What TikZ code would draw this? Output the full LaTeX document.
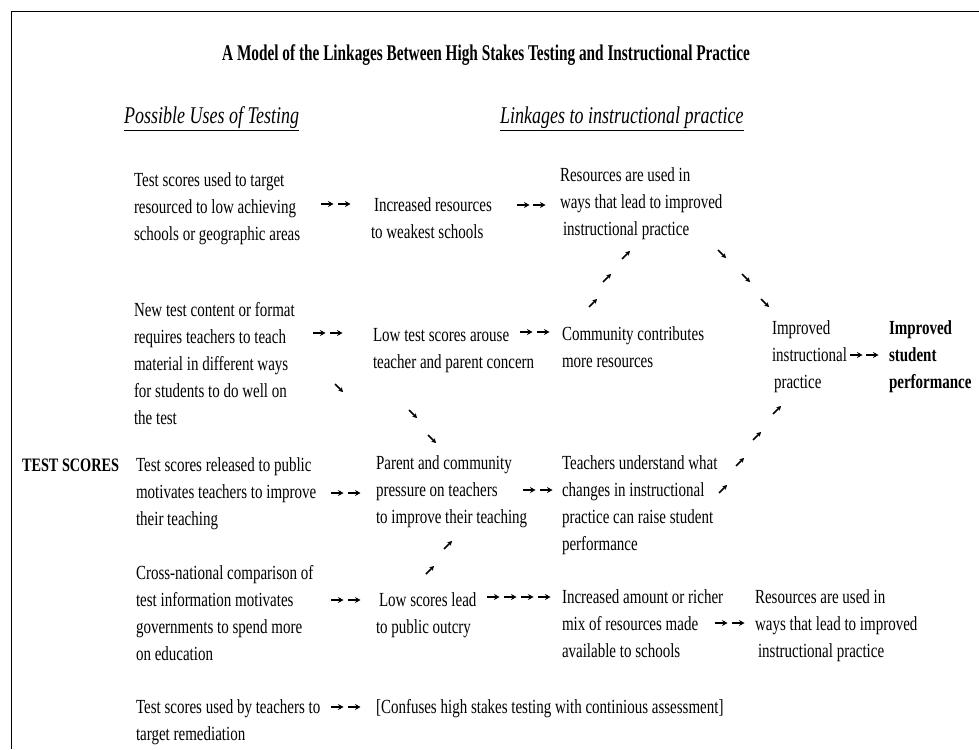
\documentclass[tikz,border=0pt]{standalone}
\usepackage{fontspec}
\setmainfont{Liberation Serif}[FakeStretch=0.75]
\newfontfamily\titlefont{Liberation Serif}[FakeStretch=0.68]
\usetikzlibrary{arrows.meta}
\newcommand\hA[2]{\draw[ha] (#1,#2) -- ++(12.5,0);}
\newcommand\neA[2]{\draw[da] ({#1-4},{#2+4}) -- ++(8,-8);}
\newcommand\seA[2]{\draw[da] ({#1-4},{#2-4}) -- ++(8,8);}
\begin{document}
\begin{tikzpicture}[x=1pt,y=-1pt,
  txt/.style={anchor=base west, inner sep=0pt, outer sep=0pt, align=left, font=\fontsize{20}{27.2}\selectfont},
  btxt/.style={txt, font=\fontsize{20}{27.2}\selectfont\bfseries},
  head/.style={anchor=base west, inner sep=0pt, font=\fontsize{24}{28}\selectfont\itshape},
  ha/.style={line width=1.7pt, -{Stealth[length=5.5pt,width=6pt]}},
  da/.style={line width=1.6pt, -{Stealth[length=4.5pt,width=5pt]}},
]
\useasboundingbox (0,0) rectangle (979,749);
\draw[line width=1.6pt] (11.5,749) -- (11.5,11.5) -- (979,11.5);

% (multi-line nodes: coordinates give the baseline of the LAST line)
\node[anchor=base, inner sep=0pt, font=\titlefont\fontsize{22.5}{26}\selectfont\bfseries] (title) at (486,61)
  {A Model of the Linkages Between High Stakes Testing and Instructional Practice};
\node[head] (h1) at (124,124) {\underline{Possible Uses of Testing}};
\node[head] (h2) at (500,124) {\underline{Linkages to instructional practice}};

% column 1
\node[txt] (u1) at (134,240.4) {Test scores used to target\\resourced to low achieving\\schools or geographic areas};
\node[txt] (u2) at (134,424.8) {New test content or format\\requires teachers to teach\\material in different ways\\for students to do well on\\the test};
\node[btxt, font=\fontsize{19}{27.2}\selectfont\bfseries] (ts) at (22,471) {TEST SCORES};
\node[txt] (u3) at (136,525.4) {Test scores released to public\\motivates teachers to improve\\their teaching};
\node[txt] (u4) at (136,660.6) {Cross-national comparison of\\test information motivates\\governments to spend more\\on education};
\node[txt] (u5) at (136,740.2) {Test scores used by teachers to\\target remediation};

% column 2
\node[txt] (m1) at (371,238.2) {\hspace{3pt}Increased resources\\to weakest schools};
\node[txt] (m2) at (373,368.2) {Low test scores arouse\\teacher and parent concern};
\node[txt] (m3) at (376,523.4) {Parent and community\\pressure on teachers\\to improve their teaching};
\node[txt] (m4) at (376,633.2) {\hspace{3pt}Low scores lead\\to public outcry};
\node[txt] (m5) at (376,713) {[Confuses high stakes testing with continious assessment]};

% column 3
\node[txt] (r1) at (560,235.4) {Resources are used in\\ways that lead to improved\\\hspace{3pt}instructional practice};
\node[txt] (r2) at (562,367.2) {Community contributes\\more resources};
\node[txt] (r3) at (562,550.6) {Teachers understand what\\changes in instructional\\practice can raise student\\performance};
\node[txt] (r4) at (562,657.4) {Increased amount or richer\\mix of resources made\\available to schools};

% column 4
\node[txt] (ip) at (772,388.4) {Improved\\instructional\\\hspace{2pt}practice};
\node[btxt] (sp) at (889,388.4) {Improved\\student\\performance};
\node[txt] (r5) at (755,657.4) {Resources are used in\\ways that lead to improved\\\hspace{3pt}instructional practice};

% horizontal arrow pairs
\hA{321}{204}\hA{338}{204}
\hA{517}{205}\hA{533}{205}
\hA{313}{333}\hA{330}{333}
\hA{520}{332}\hA{537}{332}
\hA{850}{355}\hA{866}{355}
\hA{331}{493}\hA{348}{493}
\hA{523}{490}\hA{540}{490}
\hA{331}{600}\hA{348}{600}
\hA{487}{597}\hA{504}{597}\hA{521}{597}\hA{538}{597}
\hA{715}{623}\hA{732}{623}
\hA{331}{707}\hA{348}{707}

% diagonal arrows
\neA{626}{255}\neA{607}{278}\neA{593}{303}
\neA{777}{410}\neA{757}{436}\neA{740}{462}\neA{723}{489}
\neA{448}{545}\neA{430}{570}
\seA{722}{254}\seA{746}{278}\seA{765}{303}
\seA{339}{388}\seA{413}{414}\seA{432}{439}
\end{tikzpicture}
\end{document}
